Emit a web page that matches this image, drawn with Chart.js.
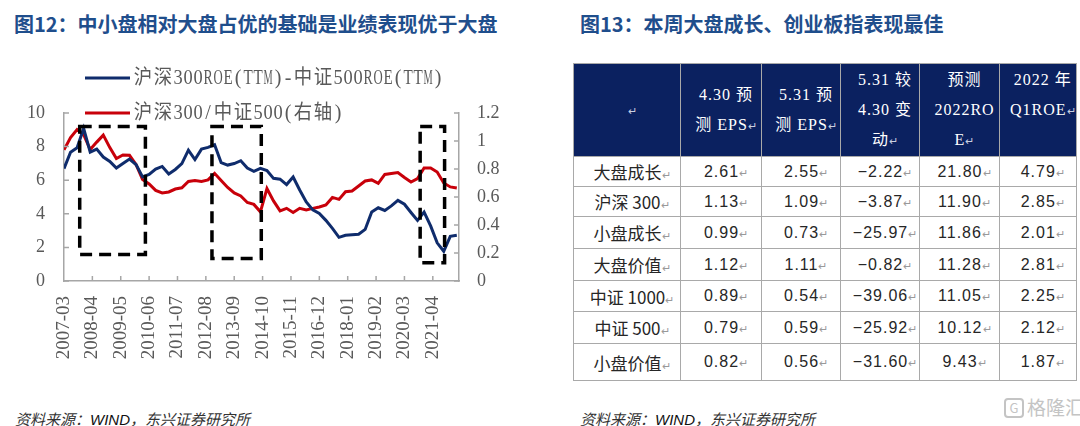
<!DOCTYPE html>
<html>
<head>
<meta charset="utf-8">
<script src="https://cdn.jsdelivr.net/npm/chart.js@4.4.1/dist/chart.umd.min.js"></script>
<style>
  body { margin: 0; width: 1080px; height: 426px; background: #fff; position: relative; overflow: hidden;
         font-family: "Noto Sans CJK SC", "Noto Sans", sans-serif; }
  .title { position: absolute; top: 9px; font-size: 20px; font-weight: bold; color: #1F4E8C; white-space: nowrap; }
  .source { position: absolute; top: 408px; font-size: 15px; font-style: italic; color: #333; white-space: nowrap; }
  .source b { font-family: "Liberation Sans", Arial, sans-serif; font-weight: normal; color: #111; }
  #chartBox { position: absolute; left: 0; top: 0; width: 540px; height: 400px; }
  table { position: absolute; left: 573px; top: 63px; border-collapse: collapse; table-layout: fixed; }
  td { border: 1.5px solid #A9A9A9; text-align: center; padding: 0 0 0 10px; color: #262626;
       font-family: "Liberation Sans", "Noto Sans CJK SC", sans-serif; font-size: 16px; letter-spacing: 1px; white-space: nowrap; }
  tr.head td { background: #0B2160; color: #fff; line-height: 30px; height: 92px; font-family: "Liberation Serif", "Noto Sans CJK SC", serif; }
  td.name { font-family: "Noto Sans CJK SC", sans-serif; font-size: 17px; letter-spacing: 0; }
  .rt { font-size: 11px; color: #999; letter-spacing: 0; }
  tr.head .rt { color: #c9cfe0; }
  .mark { position: absolute; left: 1004px; top: 393px; color: #c4c4c4; font-size: 19px; white-space: nowrap; }
  .mark span { display: inline-block; border: 2px solid #c4c4c4; border-radius: 4px; width: 16px; height: 16px;
               line-height: 16px; font-size: 13px; text-align: center; margin-right: 3px; vertical-align: 2px; }
</style>
</head>
<body>
<div class="title" style="left:14px">图12：中小盘相对大盘占优的基础是业绩表现优于大盘</div>
<div class="title" style="left:580px">图13：本周大盘成长、创业板指表现最佳</div>

<div id="chartBox"><canvas id="chart" width="540" height="400"></canvas></div>

<table id="tbl"></table>

<div class="source" style="left:15px">资料来源：<b>WIND</b>，东兴证券研究所</div>
<div class="source" style="left:580px">资料来源：<b>WIND</b>，东兴证券研究所</div>
<div class="mark"><span>G</span>格隆汇</div>

<script>
// x axis: months since 2007-03, one reading per quarter
const xTickLabels = ["2007-03", "2008-04", "2009-05", "2010-06", "2011-07", "2012-08", "2013-09",
                     "2014-10", "2015-11", "2016-12", "2018-01", "2019-02", "2020-03", "2021-04"];
const lastMonth = 181;
const quarterStep = 3;

// 沪深300ROE(TTM)-中证500ROE(TTM), left axis
const roeSpread = [6.69, 7.67, 7.93, 9.08, 7.67, 7.85, 7.38, 7.12, 6.72, 6.99,
                   7.26, 6.93, 6.20, 6.34, 6.66, 6.82, 6.37, 6.64, 6.99, 7.79,
                   7.23, 7.85, 7.95, 8.11, 7.05, 6.90, 6.99, 7.16, 6.72, 6.53,
                   6.71, 6.58, 6.11, 6.06, 5.74, 6.19, 5.42, 4.71, 4.23, 4.02,
                   3.61, 3.13, 2.60, 2.72, 2.75, 2.78, 3.07, 4.11, 4.36, 4.20,
                   4.47, 4.80, 4.57, 4.08, 3.61, 4.10, 3.28, 2.27, 1.77, 2.66, 2.72];

// 沪深300/中证500, right axis
const priceRatio = [0.937, 1.024, 1.081, 1.045, 0.939, 0.992, 1.042, 0.953, 0.875, 0.900,
                    0.898, 0.832, 0.725, 0.693, 0.647, 0.629, 0.636, 0.657, 0.666, 0.711,
                    0.717, 0.711, 0.722, 0.769, 0.718, 0.668, 0.629, 0.608, 0.561, 0.547,
                    0.494, 0.660, 0.572, 0.501, 0.519, 0.490, 0.519, 0.508, 0.519, 0.529,
                    0.543, 0.597, 0.583, 0.638, 0.643, 0.679, 0.714, 0.722, 0.697, 0.761,
                    0.768, 0.775, 0.739, 0.707, 0.732, 0.807, 0.807, 0.778, 0.700, 0.672, 0.665];

// dashed highlight boxes, in (month, left-axis value) coordinates
const highlightBoxes = [
  { x0: 7.2, x1: 37.3, top: 9.2, bottom: 1.58 },
  { x0: 67.8, x1: 90.4, top: 9.2, bottom: 1.34 },
  { x0: 163.2, x1: 174.4, top: 9.2, bottom: 1.09 }
];

// table 13
const tableHeader = ["", "4.30 预<br>测 EPS", "5.31 预<br>测 EPS", "5.31 较<br>4.30 变<br>动",
                     "预测<br>2022RO<br>E", "2022 年<br>Q1ROE<br>&nbsp;"];
const tableRows = ["大盘成长", "沪深 300", "小盘成长", "大盘价值", "中证 1000", "中证 500", "小盘价值"];
const eps0430 = ["2.61", "1.13", "0.99", "1.12", "0.89", "0.79", "0.82"];
const eps0531 = ["2.55", "1.09", "0.73", "1.11", "0.54", "0.59", "0.56"];
const epsChange = ["−2.22", "−3.87", "−25.97", "−0.82", "−39.06", "−25.92", "−31.60"];
const roe2022 = ["21.80", "11.90", "11.86", "11.28", "11.05", "10.12", "9.43"];
const roeQ1 = ["4.79", "2.85", "2.01", "2.81", "2.25", "2.12", "1.87"];

const colWidths = [107, 81, 79, 79, 80, 71];
const rowHeights = [30, 30, 32, 32, 31, 32, 37];

// build the table
const tbl = document.getElementById("tbl");
const rt = '<span class="rt">↵</span>';
let html = "<colgroup>" + colWidths.map(w => `<col style="width:${w}px">`).join("") + "</colgroup>";
html += '<tr class="head">' + tableHeader.map(h => {
  if (h.endsWith("&nbsp;")) return `<td>${h.replace("<br>&nbsp;", rt + "<br>&nbsp;")}</td>`;
  return `<td>${h}${rt}</td>`;
}).join("") + "</tr>";
tableRows.forEach((name, i) => {
  html += `<tr style="height:${rowHeights[i]}px"><td class="name">${name}${rt}</td>`;
  [eps0430, eps0531, epsChange, roe2022, roeQ1].forEach(col => {
    html += `<td>${col[i]}${rt}</td>`;
  });
  html += "</tr>";
});
tbl.innerHTML = html;

// chart
const blue = "#0F2C6C";
const red = "#C8000A";
const axisGrey = "#A6A6A6";
const labelGrey = "#595959";

const innerTicks = {
  id: "innerTicks",
  afterDraw(chart) {
    const { ctx, scales } = chart;
    const { x, y, y1 } = scales;
    ctx.save();
    ctx.strokeStyle = axisGrey;
    ctx.lineWidth = 1.5;
    ctx.beginPath();
    x.ticks.forEach(t => {
      if (t.value === 0) return;
      const px = x.getPixelForValue(t.value);
      ctx.moveTo(px, x.top); ctx.lineTo(px, x.top - 5);
    });
    y.ticks.forEach(t => {
      const py = y.getPixelForValue(t.value);
      ctx.moveTo(y.right, py); ctx.lineTo(y.right + 5, py);
    });
    y1.ticks.forEach(t => {
      const py = y1.getPixelForValue(t.value);
      ctx.moveTo(y1.left, py); ctx.lineTo(y1.left - 5, py);
    });
    ctx.stroke();
    ctx.restore();
  }
};

const dashedBoxes = {
  id: "dashedBoxes",
  afterDatasetsDraw(chart) {
    const { ctx, scales } = chart;
    ctx.save();
    ctx.strokeStyle = "#000";
    ctx.lineWidth = 3.5;
    ctx.setLineDash([12, 7]);
    highlightBoxes.forEach(b => {
      const l = scales.x.getPixelForValue(b.x0);
      const r = scales.x.getPixelForValue(b.x1);
      const t = scales.y.getPixelForValue(b.top);
      const bt = scales.y.getPixelForValue(b.bottom);
      ctx.strokeRect(l, t, r - l, bt - t);
    });
    ctx.restore();
  }
};

// legend text set like the original: full-width CJK, half-width latin
function drawHalfWidthText(ctx, text, x, y, size) {
  let cx = x;
  for (const ch of text) {
    const adv = ch.charCodeAt(0) > 255 ? size : size / 2;
    const w = ctx.measureText(ch).width;
    const k = w > adv * 0.92 ? adv * 0.92 / w : 1;
    ctx.save();
    ctx.translate(cx + adv / 2, y);
    ctx.scale(k, 1);
    ctx.fillText(ch, 0, 0);
    ctx.restore();
    cx += adv;
  }
}

const stackedLegend = {
  id: "stackedLegend",
  afterDraw(chart) {
    const { ctx } = chart;
    const size = 20;
    ctx.save();
    ctx.font = size + 'px "Liberation Serif", "Noto Sans CJK SC", serif';
    ctx.textBaseline = "middle";
    ctx.textAlign = "center";
    chart.data.datasets.forEach((ds, i) => {
      const yy = 78 + i * 35;
      ctx.strokeStyle = ds.borderColor;
      ctx.lineWidth = 3;
      ctx.beginPath();
      ctx.moveTo(85, yy); ctx.lineTo(130, yy);
      ctx.stroke();
      ctx.fillStyle = labelGrey;
      drawHalfWidthText(ctx, ds.label, 133, yy + 1, size);
    });
    ctx.restore();
  }
};

new Chart(document.getElementById("chart"), {
  type: "line",
  data: {
    datasets: [
      {
        label: "沪深300ROE(TTM)-中证500ROE(TTM)",
        data: roeSpread.map((v, i) => ({ x: i * quarterStep, y: v })),
        borderColor: blue,
        borderWidth: 3,
        pointRadius: 0,
        yAxisID: "y"
      },
      {
        label: "沪深300/中证500(右轴)",
        data: priceRatio.map((v, i) => ({ x: i * quarterStep, y: v })),
        borderColor: red,
        borderWidth: 3,
        pointRadius: 0,
        yAxisID: "y1"
      }
    ]
  },
  options: {
    responsive: false,
    animation: false,
    devicePixelRatio: 1,
    layout: { padding: { top: 113, left: 0, right: 0, bottom: 0 } },
    plugins: { legend: { display: false }, tooltip: { enabled: false } },
    scales: {
      x: {
        type: "linear",
        min: 0,
        max: lastMonth,
        afterFit: s => { s.height = 119; },
        grid: { display: false, drawTicks: false },
        border: { color: axisGrey, width: 1.5 },
        ticks: {
          stepSize: 13,
          includeBounds: false,
          autoSkip: false,
          minRotation: 90,
          maxRotation: 90,
          padding: 15,
          color: labelGrey,
          font: { family: '"Liberation Serif", serif', size: 19 },
          callback: v => xTickLabels[v / 13] ?? ""
        }
      },
      y: {
        position: "left",
        min: 0,
        max: 10,
        afterFit: s => { s.width = 64; },
        grid: { display: false, drawTicks: false },
        border: { color: axisGrey, width: 1.5 },
        ticks: {
          stepSize: 2,
          padding: 19,
          color: labelGrey,
          font: { family: '"Liberation Serif", serif', size: 18 }
        }
      },
      y1: {
        position: "right",
        min: 0,
        max: 1.2,
        afterFit: s => { s.width = 81; },
        grid: { display: false, drawTicks: false },
        border: { color: axisGrey, width: 1.5 },
        ticks: {
          stepSize: 0.2,
          padding: 18,
          color: labelGrey,
          font: { family: '"Liberation Serif", serif', size: 18 },
          callback: v => String(Number(v.toFixed(1)))
        }
      }
    }
  },
  plugins: [innerTicks, dashedBoxes, stackedLegend]
});
</script>
</body>
</html>
